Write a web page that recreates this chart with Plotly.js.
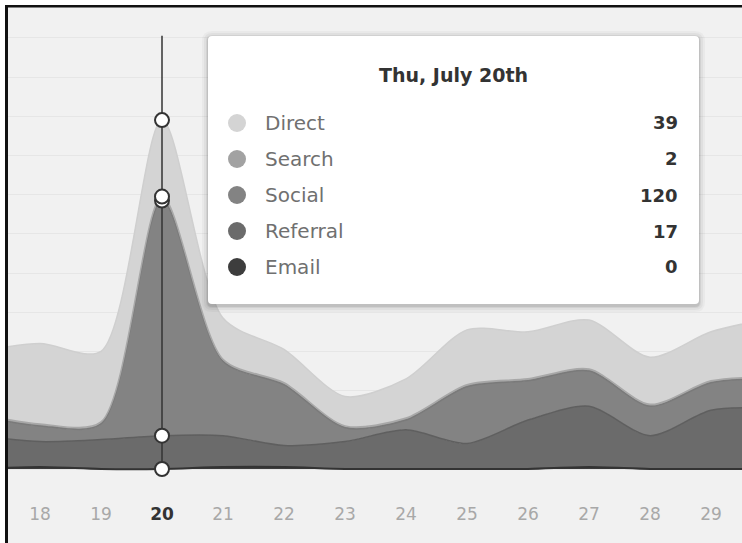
<!DOCTYPE html>
<html>
<head>
<meta charset="utf-8">
<script src="https://cdn.plot.ly/plotly-3.0.1.min.js"></script>
<style>html,body{margin:0;padding:0;background:#fff;}#chart{width:742px;height:543px;}</style>
</head>
<body>
<div id="chart"></div>
<script>
// ---- data ----
const days = [17, 18, 19, 20, 21, 22, 23, 24, 25, 26, 27, 28, 29, 30];
const email    = [0, 1, 0, 0, 1, 1, 0, 0, 0, 0, 1, 0, 0, 0];
const referral = [17, 13, 15, 17, 16, 11, 14, 20, 13, 25, 31, 17, 30, 31];
const social   = [10, 8, 8, 120, 38, 31, 7, 5, 29, 20, 18, 15, 14, 15];
const search   = [1, 1, 1, 2, 1, 1, 1, 1, 1, 1, 1, 1, 1, 1];
const direct   = [32, 41, 36, 39, 21, 17, 15, 20, 28, 24, 25, 24, 25, 30];
const tickDays   = [18, 19, 20, 21, 22, 23, 24, 25, 26, 27, 28, 29];
const tickLabels = ['18', '19', '20', '21', '22', '23', '24', '25', '26', '27', '28', '29'];
const seriesNames = ['Direct', 'Search', 'Social', 'Referral', 'Email'];
const hoverDay = 20;
const hoverTitle = 'Thu, July 20th';

// ---- styles ----
const W = 742, H = 543;
const M = {l: 8, r: 0, t: 7, b: 46};
const plotW = W - M.l - M.r, plotH = H - M.t - M.b;
const px = x => (x - M.l) / plotW;
const py = y => (H - M.b - y) / plotH;
const FONT = '"DejaVu Sans", "Open Sans", sans-serif';

const fills = {Email: '#3d3d3d', Referral: '#6b6b6b', Social: '#838383', Search: '#a2a2a2', Direct: '#d4d4d4'};
const lines = {Email: '#333333', Referral: '#5f5f5f', Social: '#7a7a7a', Search: '#a8a8a8', Direct: '#cfcfcf'};
const dataMap = {Email: email, Referral: referral, Social: social, Search: search, Direct: direct};
const stackOrder = ['Email', 'Referral', 'Social', 'Search', 'Direct'];

const traces = stackOrder.map(name => ({
  type: 'scatter', mode: 'lines', name: name,
  x: days, y: dataMap[name], stackgroup: 'one',
  line: {shape: 'spline', smoothing: 0.8, width: name === 'Email' ? 2 : 1.5, color: lines[name]},
  fillcolor: fills[name], hoverinfo: 'skip'
}));

// hover crosshair + points (cumulative values at hover day)
const hi = days.indexOf(hoverDay);
let cum = 0;
const hoverY = stackOrder.map(n => (cum += dataMap[n][hi]));
traces.push({
  type: 'scatter', mode: 'lines', x: [hoverDay, hoverDay], y: [0, 221],
  line: {color: '#333', width: 1.5}, hoverinfo: 'skip', showlegend: false
});
traces.push({
  type: 'scatter', mode: 'markers', x: hoverY.map(() => hoverDay), y: hoverY,
  marker: {size: 14, color: '#fff', line: {color: '#333', width: 2}},
  hoverinfo: 'skip', showlegend: false
});

// ---- tooltip shapes ----
function roundRect(x0, y0, x1, y1, r) {
  const P = (x, y) => px(x) + ',' + py(y);
  return 'M' + P(x0 + r, y0) + ' L' + P(x1 - r, y0) + ' Q' + P(x1, y0) + ' ' + P(x1, y0 + r) +
    ' L' + P(x1, y1 - r) + ' Q' + P(x1, y1) + ' ' + P(x1 - r, y1) +
    ' L' + P(x0 + r, y1) + ' Q' + P(x0, y1) + ' ' + P(x0, y1 - r) +
    ' L' + P(x0, y0 + r) + ' Q' + P(x0, y0) + ' ' + P(x0 + r, y0) + ' Z';
}
const TT = {x0: 208, y0: 36, x1: 699, y1: 304};
const shapes = [];
// frame: white outside, black border top/left
shapes.push({type: 'rect', xref: 'paper', yref: 'paper', x0: px(0), x1: px(W), y0: py(0), y1: py(5), fillcolor: '#fff', line: {width: 0}, layer: 'above'});
shapes.push({type: 'rect', xref: 'paper', yref: 'paper', x0: px(0), x1: px(5), y0: py(0), y1: py(H), fillcolor: '#fff', line: {width: 0}, layer: 'above'});
shapes.push({type: 'rect', xref: 'paper', yref: 'paper', x0: px(5), x1: px(W), y0: py(5), y1: py(7.5), fillcolor: '#111', line: {width: 0}, layer: 'above'});
shapes.push({type: 'rect', xref: 'paper', yref: 'paper', x0: px(5), x1: px(8), y0: py(5), y1: py(H), fillcolor: '#111', line: {width: 0}, layer: 'above'});
// shadow layers
[[6, 0.03], [4, 0.04], [2, 0.06], [1, 0.08]].forEach(([s, a]) => {
  shapes.push({type: 'path', xref: 'paper', yref: 'paper', layer: 'above',
    path: roundRect(TT.x0 - s, TT.y0 - s + 1, TT.x1 + s, TT.y1 + s + 2, 4 + s),
    fillcolor: 'rgba(0,0,0,' + a + ')', line: {width: 0}});
});
shapes.push({type: 'path', xref: 'paper', yref: 'paper', layer: 'above',
  path: roundRect(TT.x0, TT.y0, TT.x1, TT.y1, 4), fillcolor: '#ffffff', line: {width: 0}});

const rowY = [123, 159, 195, 231, 267];
const annotations = [];
annotations.push({xref: 'paper', yref: 'paper', x: px(453), y: py(75), xanchor: 'center', yanchor: 'middle',
  text: '<b>' + hoverTitle + '</b>', showarrow: false, font: {family: FONT, size: 19, color: '#333'}});
seriesNames.forEach((name, i) => {
  const cy = rowY[i], r = 9;
  shapes.push({type: 'circle', xref: 'paper', yref: 'paper', layer: 'above',
    x0: px(237 - r), x1: px(237 + r), y0: py(cy + r), y1: py(cy - r),
    fillcolor: fills[name], line: {width: 0}});
  annotations.push({xref: 'paper', yref: 'paper', x: px(263), y: py(cy), xanchor: 'left', yanchor: 'middle',
    text: name, showarrow: false, font: {family: FONT, size: 20, color: '#707070'}});
  annotations.push({xref: 'paper', yref: 'paper', x: px(680), y: py(cy), xanchor: 'right', yanchor: 'middle',
    text: '<b>' + dataMap[name][hi] + '</b>', showarrow: false, font: {family: FONT, size: 18, color: '#333'}});
});

const ticktext = tickLabels.map((t, i) => tickDays[i] === hoverDay
  ? '<span style="color:#333"><b>' + t + '</b></span>' : t);

const layout = {
  width: W, height: H,
  margin: M,
  paper_bgcolor: '#f1f1f1', plot_bgcolor: '#f1f1f1',
  showlegend: false,
  hovermode: false,
  xaxis: {
    range: [18 - 32 / 61, 29 + 31 / 61], tickvals: tickDays, ticktext: ticktext,
    showgrid: false, zeroline: false, showline: false,
    ticks: 'outside', ticklen: 2, tickcolor: 'rgba(0,0,0,0)',
    tickfont: {family: FONT, size: 17, color: '#a8a8a8'}
  },
  yaxis: {
    range: [(469 - 497) / 1.96, (469 - 7) / 1.96], dtick: 20, tick0: 0,
    showgrid: true, gridcolor: '#e6e6e6', gridwidth: 1,
    zeroline: false, showline: false, showticklabels: false, ticks: ''
  },
  shapes: shapes,
  annotations: annotations
};

Plotly.newPlot('chart', traces, layout, {displayModeBar: false, staticPlot: true});
</script>
</body>
</html>
